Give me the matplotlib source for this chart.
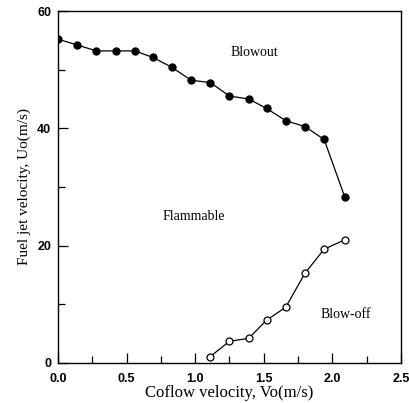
import matplotlib.pyplot as plt
from matplotlib.ticker import MultipleLocator

# blowout limit (filled symbols)
vo_blowout = [0.0, 0.14, 0.28, 0.42, 0.56, 0.69, 0.83, 0.97, 1.11, 1.25, 1.39, 1.52, 1.66, 1.80, 1.94, 2.09]
uo_blowout = [55.2, 54.2, 53.2, 53.2, 53.2, 52.1, 50.4, 48.2, 47.8, 45.5, 45.0, 43.4, 41.3, 40.3, 38.1, 28.3]

# blow-off limit (open symbols)
vo_blowoff = [1.11, 1.25, 1.39, 1.52, 1.66, 1.80, 1.94, 2.09]
uo_blowoff = [1.1, 3.7, 4.2, 7.3, 9.5, 15.3, 19.4, 21.0]

serif = 'Liberation Serif'
sans = 'Liberation Sans'

fig = plt.figure(figsize=(4.1, 4.03), dpi=100)
ax = fig.add_axes([0.1415, 0.0993, 0.8365, 0.8734])

ax.plot(vo_blowout, uo_blowout, '-o', color='black', lw=0.9,
        markersize=5, markerfacecolor='black')
ax.plot(vo_blowoff, uo_blowoff, '-o', color='black', lw=0.9,
        markersize=5, markerfacecolor='white', markeredgewidth=0.9)

ax.set_xlim(0, 2.5)
ax.set_ylim(0, 60)
ax.xaxis.set_minor_locator(MultipleLocator(0.25))
ax.yaxis.set_minor_locator(MultipleLocator(10))
ax.tick_params(which='both', direction='in', top=False, right=False, width=0.9)
ax.tick_params(which='major', length=7)
ax.tick_params(which='minor', length=5)
ax.tick_params(axis='x', pad=7)
ax.tick_params(axis='y', pad=5)
ax.set_xticks([0, 0.5, 1.0, 1.5, 2.0, 2.5])
ax.set_xticklabels(['0.0', '0.5', '1.0', '1.5', '2.0', '2.5'],
                   fontfamily=sans, fontsize=9, fontweight='bold')
ax.set_yticks([0, 20, 40, 60])
ax.set_yticklabels(['0', '20', '40', '60'],
                   fontfamily=sans, fontsize=9, fontweight='bold')

for s in ax.spines.values():
    s.set_linewidth(1.0)

ax.set_xlabel('Coflow velocity, Vo(m/s)', fontfamily=serif, fontsize=12, labelpad=0)
ax.set_ylabel('Fuel jet velocity, Uo(m/s)', fontfamily=serif, fontsize=11, labelpad=4)

ax.text(1.43, 53.0, 'Blowout', fontfamily=serif, fontsize=10, ha='center', va='center')
ax.text(0.99, 25.0, 'Flammable', fontfamily=serif, fontsize=10, ha='center', va='center')
ax.text(2.1, 8.2, 'Blow-off', fontfamily=serif, fontsize=10, ha='center', va='center')

fig.savefig('out.png', dpi=100)
